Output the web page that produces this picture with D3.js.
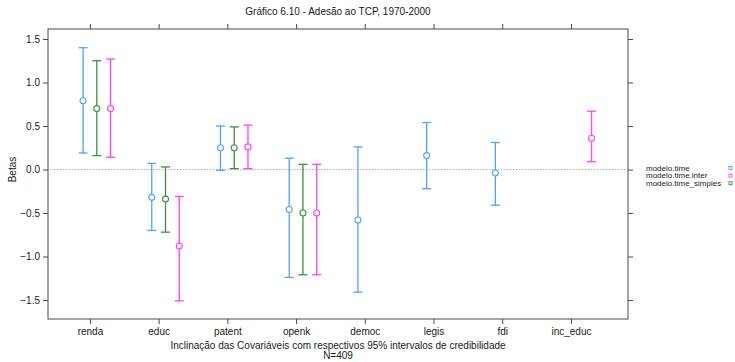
<!DOCTYPE html>
<html>
<head>
<meta charset="utf-8">
<script src="https://cdn.jsdelivr.net/npm/d3@7"></script>
<style>
  body { margin: 0; background: #fff; }
  svg text { font-family: "Liberation Sans", Arial, sans-serif; fill: #1a1a1a; }
  .axis path, .axis line { stroke: #4a4a4a; }
</style>
</head>
<body>
<svg id="chart" width="735" height="362"></svg>
<script>
// categories on the x axis
const categories = ["renda", "educ", "patent", "openk", "democ", "legis", "fdi", "inc_educ"];
const yTicks = [-1.5, -1.0, -0.5, 0.0, 0.5, 1.0, 1.5];

// model names (legend order) and estimates: [category, lower, point, upper]
const seriesNames = ["modelo.time", "modelo.time.inter", "modelo.time_simples"];
const modeloTime = [
  ["renda", 0.19, 0.79, 1.40],
  ["educ", -0.70, -0.32, 0.07],
  ["patent", -0.01, 0.25, 0.50],
  ["openk", -1.24, -0.46, 0.13],
  ["democ", -1.41, -0.58, 0.26],
  ["legis", -0.22, 0.16, 0.54],
  ["fdi", -0.41, -0.04, 0.31]
];
const modeloTimeInter = [
  ["renda", 0.14, 0.70, 1.27],
  ["educ", -1.51, -0.88, -0.31],
  ["patent", 0.01, 0.26, 0.51],
  ["openk", -1.21, -0.50, 0.06],
  ["inc_educ", 0.09, 0.36, 0.67]
];
const modeloTimeSimples = [
  ["renda", 0.16, 0.70, 1.25],
  ["educ", -0.72, -0.34, 0.03],
  ["patent", 0.01, 0.25, 0.49],
  ["openk", -1.21, -0.50, 0.06]
];

const series = [
  {name: seriesNames[0], data: modeloTime, color: "#4da3ff", offset: -0.1},
  {name: seriesNames[1], data: modeloTimeInter, color: "#ff40ff", offset: 0.3},
  {name: seriesNames[2], data: modeloTimeSimples, color: "#3f8f3f", offset: 0.1}
];

const svg = d3.select("#chart");
const panel = {left: 48, right: 628, top: 29, bottom: 319};

// numeric x position per category (1..8), padded like the lattice panel
const x = d3.scaleLinear().domain([0.39, 8.83]).range([panel.left, panel.right]);
const y = d3.scaleLinear().domain([-1.718, 1.615]).range([panel.bottom, panel.top]);
const catPos = c => categories.indexOf(c) + 1;

// panel box
svg.append("rect")
  .attr("x", panel.left).attr("y", panel.top)
  .attr("width", panel.right - panel.left).attr("height", panel.bottom - panel.top)
  .attr("fill", "none").attr("stroke", "#4a4a4a");

// axes
const xTickVals = categories.map((c, i) => i + 1);
svg.append("g").attr("class", "axis")
  .attr("transform", "translate(0," + panel.bottom + ")")
  .call(d3.axisBottom(x).tickValues(xTickVals).tickFormat(d => categories[d - 1]).tickSize(5).tickPadding(4))
  .call(g => g.select(".domain").remove())
  .selectAll("text").style("font-size", "10px");
svg.append("g").attr("class", "axis")
  .attr("transform", "translate(0," + panel.top + ")")
  .call(d3.axisTop(x).tickValues(xTickVals).tickFormat("").tickSize(5))
  .call(g => g.select(".domain").remove());
svg.append("g").attr("class", "axis")
  .attr("transform", "translate(" + panel.left + ",0)")
  .call(d3.axisLeft(y).tickValues(yTicks).tickFormat(d3.format(".1f")).tickSize(5).tickPadding(3))
  .call(g => g.select(".domain").remove())
  .selectAll("text").style("font-size", "10px");
svg.append("g").attr("class", "axis")
  .attr("transform", "translate(" + panel.right + ",0)")
  .call(d3.axisRight(y).tickValues(yTicks).tickFormat("").tickSize(5))
  .call(g => g.select(".domain").remove());

// reference line at zero
svg.append("line")
  .attr("x1", panel.left).attr("x2", panel.right)
  .attr("y1", y(0)).attr("y2", y(0))
  .attr("stroke", "#b0b0b0").attr("stroke-dasharray", "1.5,1.5");

// error bars
series.forEach(s => {
  const g = svg.append("g").attr("stroke", s.color).attr("fill", "none");
  s.data.forEach(d => {
    const cx = x(catPos(d[0]) + s.offset);
    g.append("line").attr("x1", cx).attr("x2", cx).attr("y1", y(d[1])).attr("y2", y(d[3])).attr("stroke-width", 1.3);
    g.append("line").attr("x1", cx - 4.5).attr("x2", cx + 4.5).attr("y1", y(d[1])).attr("y2", y(d[1])).attr("stroke-width", 1.3);
    g.append("line").attr("x1", cx - 4.5).attr("x2", cx + 4.5).attr("y1", y(d[3])).attr("y2", y(d[3])).attr("stroke-width", 1.3);
    g.append("circle").attr("cx", cx).attr("cy", y(d[2])).attr("r", 3).attr("fill", "#fff").attr("stroke-width", 1.1);
  });
});

// title and axis labels
svg.append("text").attr("x", (panel.left + panel.right) / 2).attr("y", 15)
  .attr("text-anchor", "middle").style("font-size", "10px")
  .text("Gráfico 6.10 - Adesão ao TCP, 1970-2000");
svg.append("text").attr("x", (panel.left + panel.right) / 2).attr("y", 349)
  .attr("text-anchor", "middle").style("font-size", "10px")
  .text("Inclinação das Covariáveis com respectivos 95% intervalos de credibilidade");
svg.append("text").attr("x", (panel.left + panel.right) / 2).attr("y", 359)
  .attr("text-anchor", "middle").style("font-size", "10px")
  .text("N=409");
svg.append("text")
  .attr("transform", "translate(16," + y(0) + ") rotate(-90)")
  .attr("text-anchor", "middle").style("font-size", "10px")
  .text("Betas");

// legend
const legend = svg.append("g").attr("transform", "translate(646,168)");
series.forEach((s, i) => {
  legend.append("text").attr("x", 0).attr("y", i * 7.6 + 2.8).style("font-size", "8px").text(s.name);
  legend.append("rect").attr("x", 83).attr("y", i * 7.6 - 1.5).attr("width", 3).attr("height", 3)
    .attr("fill", "none").attr("stroke", s.color).attr("stroke-width", 0.9);
});
</script>
</body>
</html>
